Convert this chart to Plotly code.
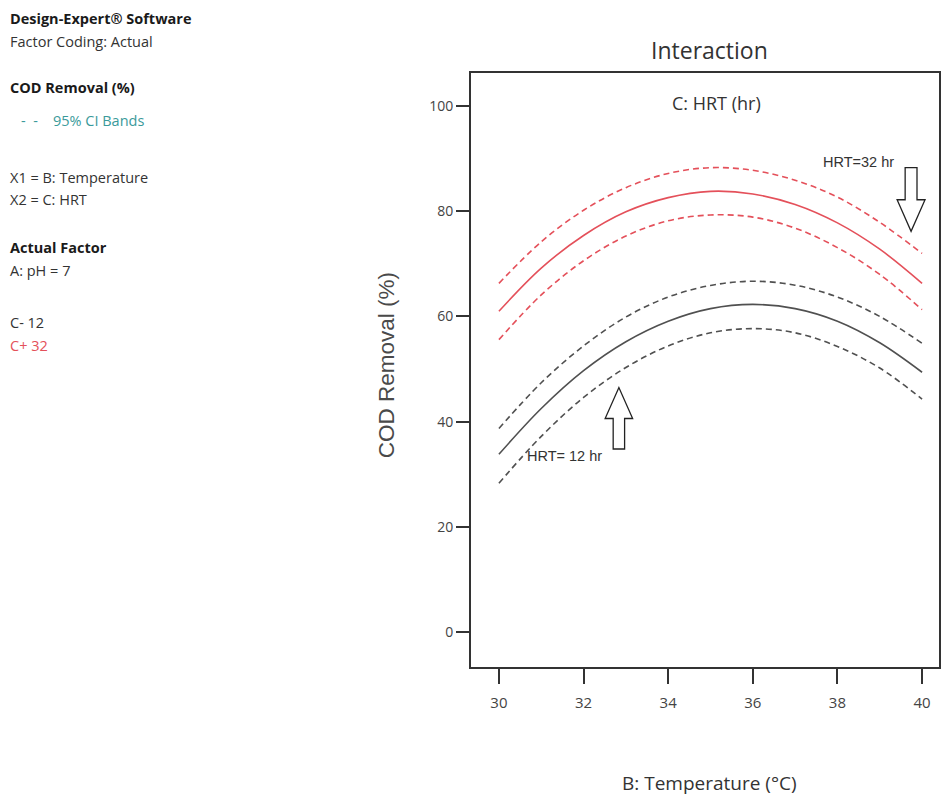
import plotly.graph_objects as go

temperature = [30, 31, 32, 33, 34, 35, 36, 37, 38, 39, 40]

hrt32_mean = [61.0, 69.2, 75.4, 79.9, 82.6, 83.8, 83.3, 81.3, 77.8, 72.8, 66.3]
hrt32_upper = [66.3, 74.2, 80.2, 84.5, 87.2, 88.3, 87.8, 85.9, 82.7, 77.9, 72.0]
hrt32_lower = [55.6, 64.1, 70.6, 75.3, 78.2, 79.3, 78.9, 76.8, 73.1, 68.0, 61.3]

hrt12_mean = [33.8, 42.5, 49.7, 55.2, 59.1, 61.5, 62.3, 61.5, 59.1, 55.0, 49.4]
hrt12_upper = [38.7, 47.4, 54.4, 59.9, 63.7, 65.9, 66.7, 65.95, 63.7, 60.0, 54.9]
hrt12_lower = [28.3, 37.2, 44.6, 50.3, 54.4, 56.9, 57.7, 56.9, 54.3, 50.2, 44.3]

x_ticks = [30, 32, 34, 36, 38, 40]
y_ticks = [0, 20, 40, 60, 80, 100]

RED = "#e4505a"
GRAY = "#505050"
SEGOE = "Open Sans, Noto Sans, sans-serif"
ARIAL = "Liberation Sans, Arial, sans-serif"

fig = go.Figure()

def add(y, color, dash):
    fig.add_trace(go.Scatter(
        x=temperature, y=y, mode="lines",
        line=dict(color=color, width=1.6, dash=dash, shape="spline"),
        showlegend=False, hoverinfo="skip"))

add(hrt32_upper, RED, "6px,4px")
add(hrt32_mean, RED, "solid")
add(hrt32_lower, RED, "6px,4px")
add(hrt12_upper, GRAY, "6px,4px")
add(hrt12_mean, GRAY, "solid")
add(hrt12_lower, GRAY, "6px,4px")

# geometry
L, R, T, B = 471, 4, 73, 135
W, H = 945, 802
pw, ph = W - L - R, H - T - B

def px(x):
    return (x - L) / pw

def py(y):
    return (H - B - y) / ph

ann = []
left_lines = [
    ("<b>Design-Expert® Software</b>", 18, "#1a1a1a", 6),
    ("Factor Coding: Actual", 41, "#333", 6),
    ("<b>COD Removal (%)</b>", 87, "#1a1a1a", 6),
    ("-  -    95% CI Bands", 120, "#3a9a9a", 17),
    ("X1 = B: Temperature", 177, "#333", 6),
    ("X2 = C: HRT", 199, "#333", 6),
    ("<b>Actual Factor</b>", 247, "#1a1a1a", 6),
    ("A: pH = 7", 270, "#333", 6),
    ("C- 12", 322, "#333", 6),
    ("C+ 32", 345, RED, 6),
]
for text, yy, col, xx in left_lines:
    ann.append(dict(text=text, xref="paper", yref="paper", x=px(xx), y=py(yy),
                    xanchor="left", yanchor="middle", showarrow=False,
                    font=dict(family=SEGOE, size=14.5, color=col)))

ann.append(dict(text="Interaction", xref="paper", yref="paper", x=px(711), y=py(50),
                xanchor="center", yanchor="middle", showarrow=False,
                font=dict(family=SEGOE, size=23, color="#333")))
ann.append(dict(text="C: HRT (hr)", xref="paper", yref="paper", x=px(718), y=py(103),
                xanchor="center", yanchor="middle", showarrow=False,
                font=dict(family=SEGOE, size=18, color="#333")))
ann.append(dict(text="B: Temperature (°C)", xref="paper", yref="paper", x=px(711), y=py(783),
                xanchor="center", yanchor="middle", showarrow=False,
                font=dict(family=SEGOE, size=19, color="#333")))
ann.append(dict(text="COD Removal (%)", xref="paper", yref="paper", x=px(386), y=py(365),
                xanchor="center", yanchor="middle", showarrow=False, textangle=-90,
                font=dict(family=ARIAL, size=22.5, color="#4a4a4a")))
ann.append(dict(text="HRT=32 hr", xref="paper", yref="paper", x=px(860), y=py(162),
                xanchor="center", yanchor="middle", showarrow=False,
                font=dict(family=ARIAL, size=14.5, color="#333")))
ann.append(dict(text="HRT= 12 hr", xref="paper", yref="paper", x=px(565), y=py(456),
                xanchor="center", yanchor="middle", showarrow=False,
                font=dict(family=ARIAL, size=14.5, color="#333")))

# hollow block arrows (decoration)
down = "M 39.60 88.3 L 39.88 88.3 L 39.88 82.2 L 40.07 82.2 L 39.74 76.2 L 39.41 82.2 L 39.60 82.2 Z"
up = "M 32.70 34.8 L 32.97 34.8 L 32.97 40.6 L 33.16 40.6 L 32.835 46.5 L 32.51 40.6 L 32.70 40.6 Z"
shapes = [dict(type="path", xref="x", yref="y", path=p,
               line=dict(color="#222", width=1.3), fillcolor="white")
          for p in (down, up)]

fig.update_layout(
    width=W, height=H,
    margin=dict(l=L, r=R, t=T, b=B),
    paper_bgcolor="white", plot_bgcolor="white",
    annotations=ann, shapes=shapes,
    xaxis=dict(range=[29.34, 40.4], tickvals=x_ticks, ticks="outside", ticklen=15,
               tickwidth=1.5, tickcolor="#333", showline=True, mirror=True,
               linecolor="#333", linewidth=2, showgrid=False, zeroline=False,
               ticklabelstandoff=6,
               tickfont=dict(family=SEGOE, size=15, color="#444")),
    yaxis=dict(range=[-6.65, 106.3], tickvals=y_ticks, ticks="outside", ticklen=13,
               tickwidth=1.5, tickcolor="#333", showline=True, mirror=True,
               linecolor="#333", linewidth=2, showgrid=False, zeroline=False,
               tickfont=dict(family=SEGOE, size=14, color="#444")),
)

fig.write_html("out.html")
